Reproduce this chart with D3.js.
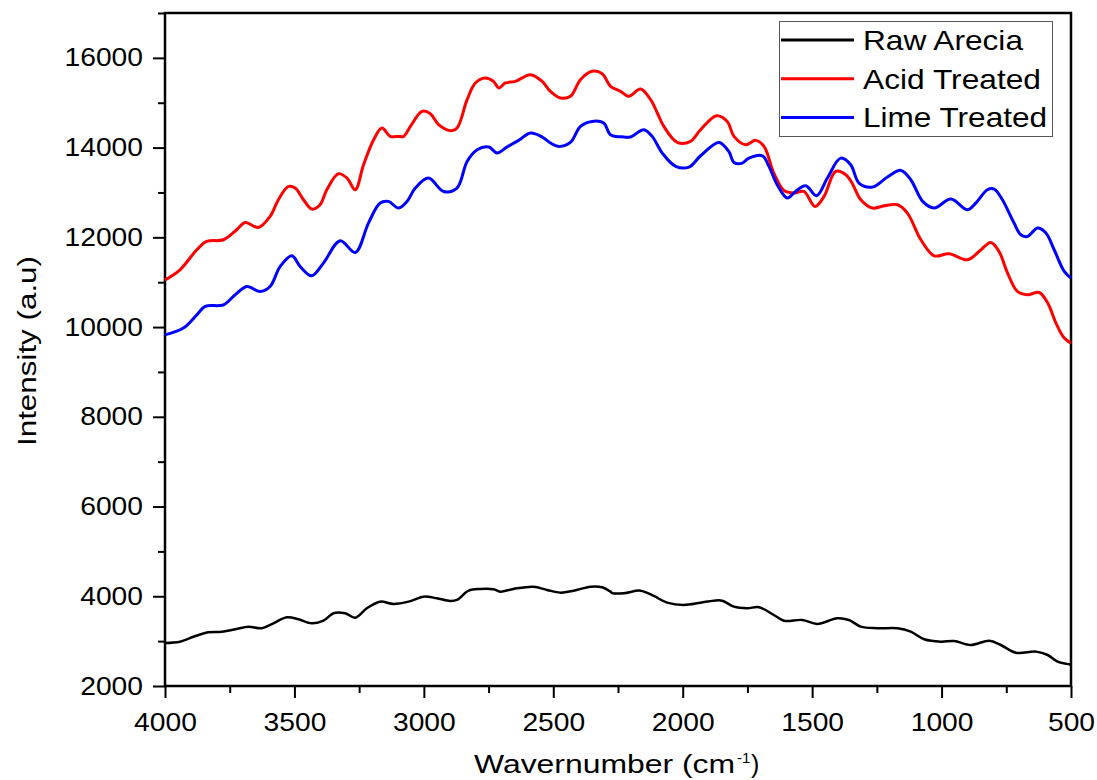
<!DOCTYPE html>
<html lang="en">
<head>
<meta charset="UTF-8">
<title>FTIR spectra</title>
<script src="https://cdn.jsdelivr.net/npm/d3@7"></script>
<style>
    body { margin: 0; background: #fff; }
    text { font-family: "Liberation Sans", Arial, sans-serif; fill: #000; }
</style>
</head>
<body>
<div id="chart"></div>
<script>
// series (wavenumber cm-1, intensity a.u)
const rawWn = [4000,3942,3890,3833,3781,3723,3678,3626,3581,3529,3484,3433,3388,3349,3304,3265,3220,3169,3118,3059,3001,2950,2898,2872,2827,2782,2731,2705,2654,2577,2524,2472,2421,2356,2311,2279,2272,2227,2163,2112,2060,1996,1931,1880,1847,1802,1751,1705,1648,1609,1538,1480,1403,1358,1312,1248,1170,1119,1067,1003,952,887,816,771,713,635,590,552,507,500];
const rawI  = [2960,2988,3099,3197,3211,3271,3323,3287,3398,3532,3487,3398,3456,3621,3621,3523,3733,3880,3829,3880,3991,3956,3895,3918,4125,4163,4156,4103,4163,4214,4141,4081,4125,4214,4200,4103,4070,4067,4125,4007,3858,3807,3858,3902,3902,3768,3733,3755,3583,3456,3472,3383,3510,3472,3323,3287,3287,3211,3041,2988,3004,2914,3010,2914,2743,2766,2691,2542,2484,2480];

const acidWn = [4000,3942,3877,3839,3774,3723,3690,3639,3594,3562,3523,3497,3465,3433,3401,3375,3330,3297,3265,3233,3194,3162,3130,3098,3078,3052,3007,2975,2943,2898,2872,2833,2801,2763,2731,2711,2685,2647,2588,2543,2511,2472,2434,2395,2350,2311,2279,2240,2208,2163,2124,2098,2073,2021,1970,1931,1869,1828,1802,1757,1718,1686,1648,1609,1570,1532,1489,1454,1409,1370,1345,1312,1267,1222,1170,1132,1080,1029,971,900,855,810,778,745,707,668,623,590,558,526,500];
const acidI  = [11050,11277,11723,11908,11946,12169,12331,12220,12466,12838,13135,13098,12838,12630,12726,13061,13418,13321,13061,13618,14176,14437,14250,14250,14250,14473,14807,14756,14510,14377,14437,15068,15440,15551,15476,15329,15440,15476,15625,15476,15253,15105,15142,15514,15700,15648,15366,15253,15142,15306,15068,14771,14473,14116,14138,14399,14711,14584,14250,14064,14161,14027,13433,13046,12987,13023,12689,12912,13470,13395,13200,12838,12653,12704,12726,12541,11946,11589,11634,11500,11685,11886,11685,11203,10794,10720,10771,10535,10088,9754,9643];

const limeWn = [4000,3929,3877,3845,3774,3729,3684,3633,3594,3555,3510,3478,3433,3388,3323,3265,3214,3169,3137,3098,3065,3033,2982,2924,2872,2833,2794,2749,2717,2679,2634,2588,2543,2511,2479,2434,2395,2350,2305,2279,2227,2202,2150,2118,2079,2027,1976,1931,1860,1822,1802,1770,1744,1692,1667,1635,1596,1564,1525,1483,1441,1390,1351,1319,1267,1209,1157,1119,1073,1029,964,900,868,823,797,765,720,694,668,629,597,565,526,500];
const limeI  = [9827,9977,10273,10459,10497,10720,10905,10794,10905,11351,11589,11351,11143,11426,11923,11662,12318,12764,12801,12653,12801,13098,13321,13023,13098,13692,13953,14012,13880,14012,14161,14325,14236,14102,14027,14116,14473,14584,14548,14287,14236,14236,14399,14250,13878,13581,13566,13818,14116,13915,13670,13655,13766,13818,13581,13173,12875,13023,13150,12927,13321,13766,13618,13210,13121,13344,13492,13284,12801,12653,12853,12615,12764,13061,13076,12838,12318,12057,12020,12206,12095,11723,11240,11092];

const seriesNames  = ['Raw Arecia', 'Acid Treated', 'Lime Treated'];
const seriesColors = ['#000000', '#ff0000', '#0000ff'];

const xTicks = [4000, 3500, 3000, 2500, 2000, 1500, 1000, 500];
const yTicks = [2000, 4000, 6000, 8000, 10000, 12000, 14000, 16000];

const W = 1097, H = 780;
const margin = {left: 165, right: 26, top: 13, bottom: 94};

const svg = d3.select('#chart').append('svg')
    .attr('width', W).attr('height', H);

const x = d3.scaleLinear().domain([4000, 500]).range([margin.left, W - margin.right]);
const y = d3.scaleLinear().domain([2000, 17000]).range([H - margin.bottom, margin.top]);

// minor ticks
svg.append('g')
    .attr('transform', `translate(0,${H - margin.bottom})`)
    .call(d3.axisBottom(x).tickValues(d3.range(3750, 500, -500)).tickSize(7).tickFormat(''))
    .call(g => g.select('.domain').remove())
    .selectAll('line').attr('stroke-width', 2);
svg.append('g')
    .attr('transform', `translate(${margin.left},0)`)
    .call(d3.axisLeft(y).tickValues(d3.range(3000, 17001, 2000)).tickSize(7).tickFormat(''))
    .call(g => g.select('.domain').remove())
    .selectAll('line').attr('stroke-width', 2);

// major ticks + labels
const xAxis = svg.append('g')
    .attr('transform', `translate(0,${H - margin.bottom})`)
    .call(d3.axisBottom(x).tickValues(xTicks).tickSize(12).tickPadding(15).tickFormat(d3.format('d')));
const yAxis = svg.append('g')
    .attr('transform', `translate(${margin.left},0)`)
    .call(d3.axisLeft(y).tickValues(yTicks).tickSize(12).tickPadding(10).tickFormat(d3.format('d')));

[xAxis, yAxis].forEach(a => {
    a.select('.domain').remove();
    a.selectAll('line').attr('stroke-width', 2);
    a.selectAll('text')
        .style('font-size', '25px')
        .attr('textLength', function() { return this.textContent.length * 15.7; })
        .attr('lengthAdjust', 'spacingAndGlyphs');
});

// frame
svg.append('rect')
    .attr('x', margin.left).attr('y', margin.top)
    .attr('width', W - margin.left - margin.right)
    .attr('height', H - margin.top - margin.bottom)
    .attr('fill', 'none').attr('stroke', '#000').attr('stroke-width', 2.5);

// lines
const line = d3.line()
    .x(d => x(d[0])).y(d => y(d[1]))
    .curve(d3.curveCatmullRom.alpha(0.5));

const data = [
    d3.zip(rawWn, rawI),
    d3.zip(acidWn, acidI),
    d3.zip(limeWn, limeI)
];

svg.append('g').selectAll('path')
    .data(data)
    .join('path')
    .attr('d', line)
    .attr('fill', 'none')
    .attr('stroke', (d, i) => seriesColors[i])
    .attr('stroke-width', (d, i) => i === 0 ? 2.5 : 3)
    .attr('stroke-linejoin', 'round');

// axis titles
svg.append('text')
    .attr('transform', 'translate(36,351) rotate(-90)')
    .attr('text-anchor', 'middle')
    .style('font-size', '26px')
    .attr('textLength', 190).attr('lengthAdjust', 'spacingAndGlyphs')
    .text('Intensity (a.u)');

svg.append('text')
    .attr('x', 474).attr('y', 773)
    .style('font-size', '25px')
    .attr('textLength', 261).attr('lengthAdjust', 'spacingAndGlyphs')
    .text('Wavernumber (cm');
svg.append('text')
    .attr('x', 737).attr('y', 763)
    .style('font-size', '15px')
    .text('-1');
svg.append('text')
    .attr('x', 751).attr('y', 773)
    .style('font-size', '25px')
    .text(')');

// legend
const legend = svg.append('g');
legend.append('rect')
    .attr('x', 779.5).attr('y', 21.5).attr('width', 273).attr('height', 115)
    .attr('fill', '#fff').attr('stroke', '#555').attr('stroke-width', 1);

const legendLen = [160, 178, 184];
const item = legend.selectAll('g.item')
    .data(seriesNames)
    .join('g').attr('class', 'item')
    .attr('transform', (d, i) => `translate(0,${40 + i * 38.7})`);
item.append('line')
    .attr('x1', 781).attr('x2', 854)
    .attr('stroke', (d, i) => seriesColors[i])
    .attr('stroke-width', 3);
item.append('text')
    .attr('x', 863).attr('y', 10)
    .style('font-size', '28px')
    .attr('textLength', (d, i) => legendLen[i])
    .attr('lengthAdjust', 'spacingAndGlyphs')
    .text(d => d);
</script>
</body>
</html>
